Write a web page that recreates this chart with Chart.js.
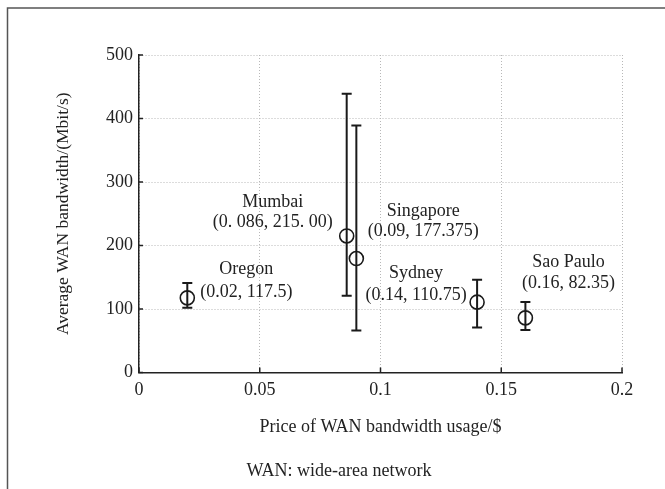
<!DOCTYPE html>
<html>
<head>
<meta charset="utf-8">
<script src="https://cdn.jsdelivr.net/npm/chart.js@4.4.1/dist/chart.umd.min.js"></script>
<style>
  html, body { margin: 0; padding: 0; background: #fff; }
</style>
</head>
<body>
<canvas id="chart" width="665" height="489"></canvas>
<script>
// data
const regions = ["Oregon", "Mumbai", "Singapore", "Sydney", "Sao Paulo"];
const prices = [0.02, 0.086, 0.09, 0.14, 0.16];
const bandwidth = [117.5, 215, 179.5, 110.75, 86];
const bwLow = [102, 121, 66, 71, 67];
const bwHigh = [141, 439, 389, 146, 111];
const coordLabels = ["(0.02, 117.5)", "(0. 086, 215. 00)", "(0.09, 177.375)", "(0.14, 110.75)", "(0.16, 82.35)"];
const xTicks = [0, 0.05, 0.1, 0.15, 0.2];
const yTicks = [0, 100, 200, 300, 400, 500];

// label placement relative to the point: [dx, dy name, dy coords]
const labelOffsets = [[59, -29, -6], [-74, -34, -14], [67, -47, -27], [-61, -29, -7], [43, -56, -35]];

const serif = '"Liberation Serif", "Times New Roman", serif';
const ink = "#1a1a1a";

const framePlugin = {
  id: "frame",
  beforeDraw(chart) {
    const ctx = chart.ctx;
    ctx.save();
    ctx.fillStyle = "#fff";
    ctx.fillRect(0, 0, chart.width, chart.height);
    ctx.strokeStyle = "#555";
    ctx.lineWidth = 1.5;
    ctx.beginPath();
    ctx.moveTo(7.5, chart.height);
    ctx.lineTo(7.5, 8);
    ctx.lineTo(chart.width, 8);
    ctx.stroke();
    ctx.restore();
  },
  afterDraw(chart) {
    const ctx = chart.ctx;
    const xs = chart.scales.x, ys = chart.scales.y;
    const area = chart.chartArea;
    ctx.save();
    ctx.strokeStyle = "#222";
    ctx.lineWidth = 1.5;
    ctx.beginPath();
    xTicks.forEach(v => {
      const px = xs.getPixelForValue(v);
      ctx.moveTo(px, area.bottom);
      ctx.lineTo(px, area.bottom - 5);
    });
    yTicks.forEach(v => {
      const py = ys.getPixelForValue(v);
      ctx.moveTo(area.left, py);
      ctx.lineTo(area.left + 4, py);
    });
    ctx.stroke();
    // footnote
    ctx.fillStyle = "#222";
    ctx.font = "18px " + serif;
    ctx.textAlign = "center";
    ctx.textBaseline = "middle";
    ctx.fillText("WAN: wide-area network", 339, 471);
    ctx.restore();
  }
};

const errorBarPlugin = {
  id: "errorBars",
  beforeDatasetsDraw(chart) {
    const ctx = chart.ctx;
    const xs = chart.scales.x, ys = chart.scales.y;
    ctx.save();
    ctx.strokeStyle = ink;
    ctx.lineWidth = 2;
    prices.forEach((p, i) => {
      const px = xs.getPixelForValue(p);
      const lo = ys.getPixelForValue(bwLow[i]);
      const hi = ys.getPixelForValue(bwHigh[i]);
      ctx.beginPath();
      ctx.moveTo(px, lo);
      ctx.lineTo(px, hi);
      ctx.moveTo(px - 5, lo);
      ctx.lineTo(px + 5, lo);
      ctx.moveTo(px - 5, hi);
      ctx.lineTo(px + 5, hi);
      ctx.stroke();
    });
    ctx.restore();
  },
  afterDatasetsDraw(chart) {
    const ctx = chart.ctx;
    const xs = chart.scales.x, ys = chart.scales.y;
    ctx.save();
    ctx.fillStyle = "#222";
    ctx.font = "18px " + serif;
    ctx.textAlign = "center";
    ctx.textBaseline = "middle";
    prices.forEach((p, i) => {
      const px = xs.getPixelForValue(p);
      const py = ys.getPixelForValue(bandwidth[i]);
      const [dx, dy1, dy2] = labelOffsets[i];
      ctx.fillText(regions[i], px + dx, py + dy1);
      ctx.fillText(coordLabels[i], px + dx, py + dy2);
    });
    ctx.restore();
  }
};

new Chart(document.getElementById("chart"), {
  type: "scatter",
  data: {
    datasets: [{
      data: prices.map((p, i) => ({ x: p, y: bandwidth[i] })),
      pointRadius: 7,
      pointHoverRadius: 7,
      pointBorderWidth: 1.6,
      pointBorderColor: ink,
      pointBackgroundColor: "rgba(0,0,0,0)"
    }]
  },
  options: {
    responsive: false,
    devicePixelRatio: 1,
    animation: false,
    layout: { padding: { top: 55, right: 43, left: 0, bottom: 0 } },
    plugins: { legend: { display: false }, tooltip: { enabled: false } },
    scales: {
      x: {
        type: "linear",
        min: 0,
        max: 0.2,
        afterBuildTicks: s => { s.ticks = xTicks.map(v => ({ value: v })); },
        afterFit: s => { s.height = 116.5; },
        ticks: {
          padding: 7,
          color: "#222",
          font: { family: serif, size: 18 },
          maxRotation: 0,
          callback: v => String(v)
        },
        grid: { color: "#b8b8b8", lineWidth: 1, drawTicks: false },
        border: { display: true, color: "#222", width: 1.5, dash: [1, 2] },
        title: {
          display: true,
          text: "Price of WAN bandwidth usage/$",
          color: "#222",
          font: { family: serif, size: 18 },
          padding: { top: 0, bottom: 51 }
        }
      },
      y: {
        type: "linear",
        min: 0,
        max: 500,
        afterBuildTicks: s => { s.ticks = yTicks.map(v => ({ value: v })); },
        afterFit: s => { s.width = 139; },
        ticks: {
          padding: 6,
          color: "#222",
          font: { family: serif, size: 18 },
          callback: v => String(v)
        },
        grid: { color: "#b8b8b8", lineWidth: 1, drawTicks: false },
        border: { display: true, color: "#222", width: 1.5, dash: [1, 2] },
        title: {
          display: true,
          text: "Average WAN bandwidth/(Mbit/s)",
          color: "#222",
          font: { family: serif, size: 17.5 },
          padding: { top: 53, bottom: 0 }
        }
      }
    }
  },
  plugins: [framePlugin, errorBarPlugin]
});
</script>
</body>
</html>
